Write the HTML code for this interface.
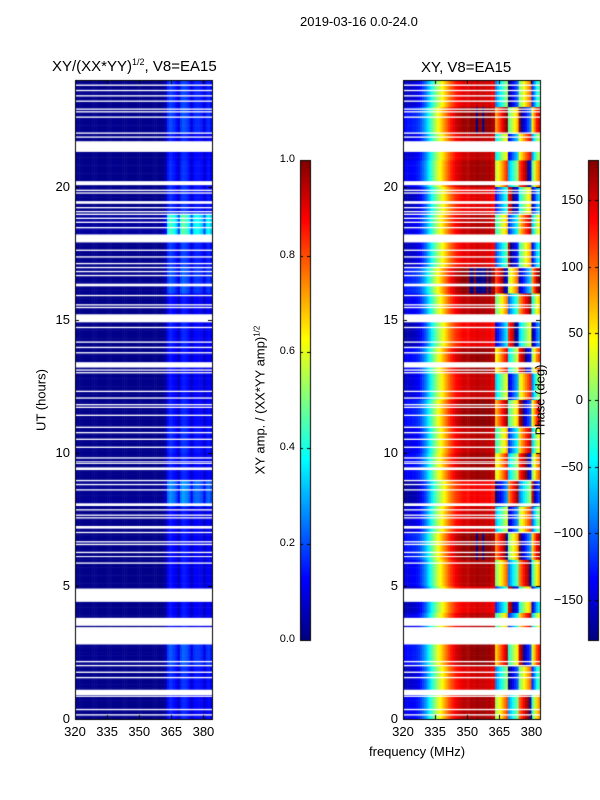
<!DOCTYPE html>
<html><head><meta charset="utf-8"><style>
body{margin:0;background:#fff;width:600px;height:800px;overflow:hidden;font-family:"Liberation Sans","DejaVu Sans",sans-serif}
#root{position:relative;width:600px;height:800px}
canvas{position:absolute;left:0;top:0}
.t{position:absolute;font-size:13px;color:#000;white-space:nowrap}
</style></head><body>
<div id="root">
<canvas id="cv" width="600" height="800"></canvas>
<div class="t" style="left:300px;top:14px;">2019-03-16 0.0-24.0</div>
<div class="t" style="left:52px;top:57px;font-size:15px;">XY/(XX*YY)<sup style="font-size:9px">1/2</sup>, V8=EA15</div>
<div class="t" style="left:421px;top:59px;font-size:15px;">XY, V8=EA15</div>
<div class="t" style="left:41px;top:400px;transform:translate(-50%,-50%) rotate(-90deg);">UT (hours)</div>
<div class="t" style="left:369px;top:744px;">frequency (MHz)</div>
<div class="t" style="left:260px;top:400px;transform:translate(-50%,-50%) rotate(-90deg);">XY amp. / (XX*YY amp)<sup style="font-size:8px">1/2</sup></div>
<div class="t" style="left:540px;top:400px;transform:translate(-50%,-50%) rotate(-90deg);">Phase (deg)</div>
</div>
<script>
const channels=[];for(let f=320;f<384;f++)channels.push(f);
const ampProfile=[0.01,0.01,0.01,0.01,0.01,0.01,0.01,0.01,0.01,0.01,0.01,0.01,0.01,0.01,0.01,0.01,0.01,0.01,0.01,0.01,0.01,0.01,0.01,0.01,0.01,0.01,0.01,0.01,0.01,0.01,0.01,0.01,0.01,0.01,0.01,0.01,0.01,0.01,0.01,0.01,0.01,0.02,0.04,0.12,0.14,0.13,0.12,0.1,0.06,0.13,0.15,0.14,0.13,0.11,0.06,0.11,0.12,0.12,0.11,0.1,0.06,0.11,0.12,0.1];
const ampHourGain=[1.1,1.2,1.5,1.0,1.0,1.0,1.0,1.0,1.9,1.1,1.2,1.1,1.0,1.0,1.1,1.0,1.5,1.3,3.2,1.2,1.2,1.1,1.4,1.3];
const phaseProfile=[-150,-150,-145,-145,-140,-140,-135,-130,-120,-105,-90,-70,-50,-30,-10,10,25,40,55,70,85,100,115,125,135,140,145,150,155,155,150,160,160,155,165,160,160,165,160,155,160,150,150,-30,-10,10,30,50,70,-120,-100,-80,-60,-40,60,80,100,120,140,160,-60,-20,20,40];
const phaseHourShift=[40,-60,90,0,-90,30,120,-40,-150,60,0,100,-30,70,-120,20,140,-80,0,-100,50,-20,110,-60];
const gaps=[[0.13,0.18],[0.33,0.38],[0.83,0.88],[0.9,1.1],[1.53,1.58],[1.73,1.78],[1.98,2.03],[2.13,2.18],[2.8,3.45],[3.5,3.8],[4.4,4.9],[5.83,5.88],[6.08,6.12],[6.23,6.28],[6.53,6.58],[6.63,6.68],[6.98,7.03],[7.15,7.25],[7.53,7.58],[7.63,7.68],[7.83,7.88],[8.0,8.1],[8.58,8.63],[8.78,8.83],[8.93,8.98],[9.35,9.45],[9.58,9.63],[9.65,9.68],[9.78,9.83],[10.18,10.23],[10.48,10.53],[10.73,10.78],[10.93,10.98],[11.38,11.43],[11.68,11.73],[11.78,11.83],[12.03,12.08],[12.28,12.33],[12.98,13.03],[13.08,13.13],[13.2,13.4],[13.73,13.78],[13.93,13.98],[14.13,14.18],[14.68,14.73],[14.9,15.2],[15.43,15.48],[15.53,15.58],[15.88,15.93],[16.25,16.35],[16.63,16.68],[16.78,16.83],[16.93,16.98],[17.08,17.13],[17.33,17.38],[17.58,17.63],[17.9,18.2],[18.43,18.48],[18.63,18.68],[18.78,18.83],[18.93,18.98],[19.03,19.08],[19.18,19.23],[19.35,19.45],[19.73,19.78],[19.83,19.88],[20.05,20.2],[21.3,21.7],[21.83,21.88],[21.98,22.03],[22.58,22.63],[22.78,22.83],[22.88,22.93],[23.18,23.23],[23.38,23.43],[23.58,23.63],[23.78,23.83]];
const ampTicks=[0,0.2,0.4,0.6,0.8,1.0];
const phaseTicks=[-150,-100,-50,0,50,100,150];
const xTicks=[320,335,350,365,380];
const yTicks=[0,5,10,15,20];

const cv=document.getElementById('cv'),ctx=cv.getContext('2d');
const root=document.getElementById('root');
const P1={x0:75,x1:212},P2={x0:403,x1:540},Y0=719,Y1=80;
const fmin=320,fmax=384,tmin=0,tmax=24;
function xs(p,f){return p.x0+(f-fmin)/(fmax-fmin)*(p.x1-p.x0);}
function ys(h){return Y0-(h-tmin)/(tmax-tmin)*(Y0-Y1);}
function cl(v){return Math.max(0,Math.min(1,v));}
function jet(v){v=cl(v);return 'rgb('+Math.round(255*cl(1.5-Math.abs(4*v-3)))+','+Math.round(255*cl(1.5-Math.abs(4*v-2)))+','+Math.round(255*cl(1.5-Math.abs(4*v-1)))+')';}
function wrap(p){while(p>180)p-=360;while(p<-180)p+=360;return p;}
const dt=0.1;
for(let r=0;r<240;r++){
  const h=r*dt,hi=Math.floor(h),g=ampHourGain[hi],s=phaseHourShift[hi];
  const y0=ys(h+dt),y1=ys(h);
  for(let c=0;c<channels.length;c++){
    const f=channels[c];
    ctx.fillStyle=jet(ampProfile[c]*g);
    ctx.fillRect(xs(P1,f),y0,xs(P1,f+1)-xs(P1,f)+0.5,y1-y0+0.5);
    const ph=c>=43?wrap(phaseProfile[c]+s):wrap(phaseProfile[c]+s*0.15);
    ctx.fillStyle=jet((ph+180)/360);
    ctx.fillRect(xs(P2,f),y0,xs(P2,f+1)-xs(P2,f)+0.5,y1-y0+0.5);
  }
}
ctx.fillStyle='#fff';
gaps.forEach(g=>{const a=ys(g[1]),b=ys(g[0]);ctx.fillRect(P1.x0,a,P1.x1-P1.x0,b-a);ctx.fillRect(P2.x0,a,P2.x1-P2.x0,b-a);});
ctx.strokeStyle='#000';ctx.lineWidth=1;
[P1,P2].forEach(p=>{
  ctx.strokeRect(p.x0+0.5,Y1+0.5,p.x1-p.x0,Y0-Y1);
  xTicks.forEach(t=>{const x=Math.round(xs(p,t))+0.5;ctx.beginPath();ctx.moveTo(x,Y0);ctx.lineTo(x,Y0-4);ctx.moveTo(x,Y1);ctx.lineTo(x,Y1+4);ctx.stroke();});
  yTicks.forEach(t=>{const y=Math.round(ys(t))+0.5;ctx.beginPath();ctx.moveTo(p.x0,y);ctx.lineTo(p.x0+4,y);ctx.moveTo(p.x1,y);ctx.lineTo(p.x1-4,y);ctx.stroke();});
});
const CB={y0:640,y1:160};
function cbar(x,w){for(let i=0;i<480;i++){ctx.fillStyle=jet(i/480);ctx.fillRect(x,CB.y0-i-1,w,1.2);}ctx.strokeRect(x+0.5,CB.y1+0.5,w,CB.y0-CB.y1);}
cbar(300,10);cbar(588,10);
function lab(txt,x,y,align,name){const d=document.createElement('div');d.className='t';d.textContent=txt;


d.style.left=x+'px';d.style.top=(y-8)+'px';
d.style.transform=align==='c'?'translateX(-50%)':(align==='r'?'translateX(-100%)':'none');root.appendChild(d);}
[P1,P2].forEach((p,k)=>{
  xTicks.forEach(t=>lab(String(t),xs(p,t),732,'c','x-tick-label'));
  yTicks.forEach(t=>lab(String(t),p.x0-5,ys(t),'r','y-tick-label'));
});
ampTicks.forEach(t=>{const y=CB.y0-t*480;ctx.beginPath();ctx.moveTo(300,Math.round(y)+0.5);ctx.lineTo(303,Math.round(y)+0.5);ctx.moveTo(310,Math.round(y)+0.5);ctx.lineTo(307,Math.round(y)+0.5);ctx.stroke();
  const d=document.createElement('div');d.className='t';d.style.fontSize='11px';d.textContent=t.toFixed(1);
  
  
  d.style.left='295px';d.style.top=(y-7)+'px';d.style.transform='translateX(-100%)';root.appendChild(d);});
phaseTicks.forEach(t=>{const y=CB.y0-(t+180)/360*480;ctx.beginPath();ctx.moveTo(588,Math.round(y)+0.5);ctx.lineTo(591,Math.round(y)+0.5);ctx.moveTo(598,Math.round(y)+0.5);ctx.lineTo(595,Math.round(y)+0.5);ctx.stroke();
  lab(t<0?'\u2212'+(-t):String(t),583,y,'r','phase-colorbar-tick-label');});
</script>
</body></html>
